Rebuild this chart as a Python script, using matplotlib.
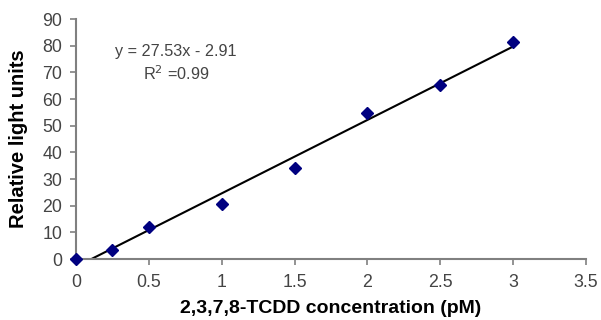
import numpy as np
import matplotlib
matplotlib.use('Agg')
import matplotlib.pyplot as plt

plt.rcParams['font.family'] = ['Liberation Sans', 'DejaVu Sans']

# data
conc = [0, 0.25, 0.5, 1, 1.5, 2, 2.5, 3]
light = [0, 3.4, 12.1, 20.6, 34.3, 54.6, 65.3, 81.2]
slope, intercept = 27.53, -2.91
fit_x = [-intercept / slope, 3]

fig = plt.figure(figsize=(6.01, 3.2), dpi=100)
ax = fig.add_axes([0.1265, 0.1906, 0.8485, 0.75])

fit_x = np.array(fit_x)
ax.plot(fit_x, slope * fit_x + intercept, color='black', linewidth=1.5, zorder=2)
ax.plot(conc, light, linestyle='none', marker='D', markersize=5.8,
        color='#000080', clip_on=False, zorder=3)

ax.set_xlim(0, 3.5)
ax.set_ylim(0, 90)
ax.set_xticks(np.arange(0, 3.6, 0.5))
ax.set_xticklabels(['0', '0.5', '1', '1.5', '2', '2.5', '3', '3.5'])
ax.set_yticks(range(0, 91, 10))

for s in ['top', 'right']:
    ax.spines[s].set_visible(False)
for s in ['left', 'bottom']:
    ax.spines[s].set_color('#808080')
    ax.spines[s].set_linewidth(1.5)
ax.tick_params(direction='out', length=4, width=1.2, color='#808080',
               labelsize=12.8, labelcolor='#444444')
ax.tick_params(axis='x', pad=7)
ax.tick_params(axis='y', pad=6)

ax.set_xlabel('2,3,7,8-TCDD concentration (pM)', fontsize=14,
              fontweight='bold', labelpad=6)
ax.set_ylabel('Relative light units', fontsize=14.5, fontweight='bold',
              labelpad=10)

ax.text(0.686, 78.0, 'y = 27.53x - 2.91', fontsize=11.7, ha='center',
        va='center', color='#444444')
ax.text(0.686, 69.5, 'R$^2$ =0.99', fontsize=11.7, ha='center',
        va='center', color='#444444')

plt.savefig('out.png', dpi=100)
